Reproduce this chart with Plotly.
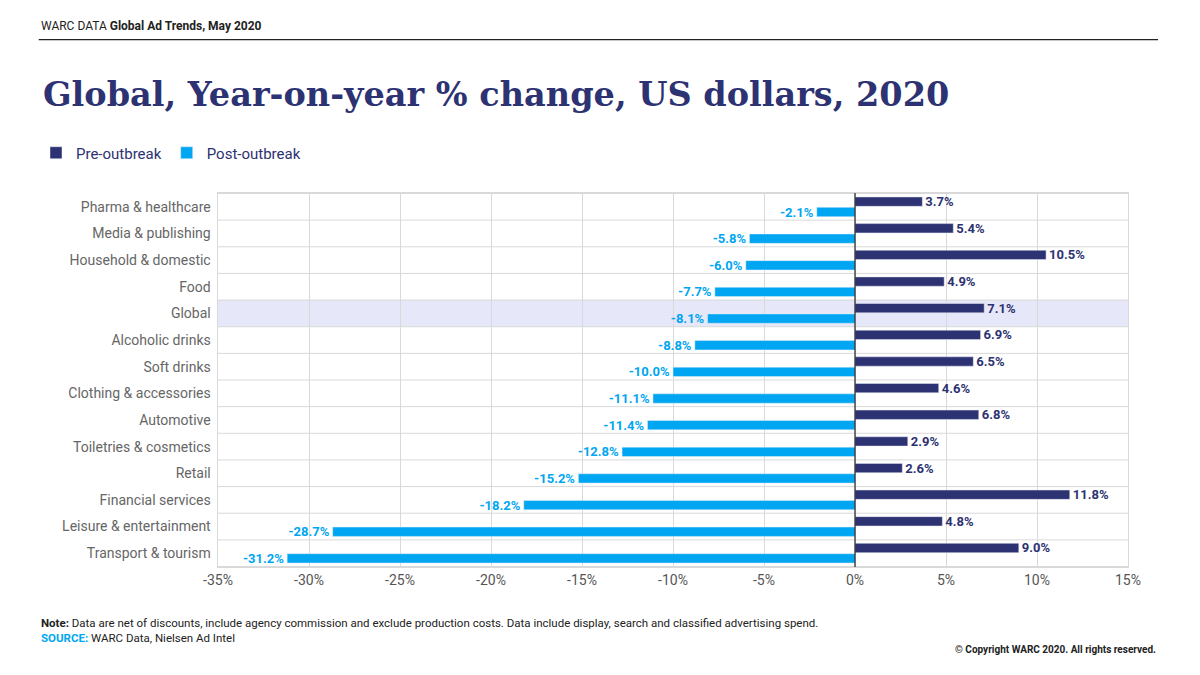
import plotly.graph_objects as go

categories = ["Pharma & healthcare", "Media & publishing", "Household & domestic", "Food",
              "Global", "Alcoholic drinks", "Soft drinks", "Clothing & accessories",
              "Automotive", "Toiletries & cosmetics", "Retail", "Financial services",
              "Leisure & entertainment", "Transport & tourism"]
pre_outbreak = [3.7, 5.4, 10.5, 4.9, 7.1, 6.9, 6.5, 4.6, 6.8, 2.9, 2.6, 11.8, 4.8, 9.0]
post_outbreak = [-2.1, -5.8, -6.0, -7.7, -8.1, -8.8, -10.0, -11.1, -11.4, -12.8, -15.2, -18.2, -28.7, -31.2]
x_ticks = [-35, -30, -25, -20, -15, -10, -5, 0, 5, 10, 15]

NAVY = "#2d3272"
BLUE = "#00a6f2"
font = "Roboto"

fig = go.Figure()
fig.add_trace(go.Bar(y=categories, x=pre_outbreak, orientation="h", name="Pre-outbreak",
                     marker_color=NAVY, text=[f"{v:.1f}%" for v in pre_outbreak],
                     textposition="outside", cliponaxis=False, constraintext="none",
                     textfont=dict(color=NAVY, size=13, family=font, weight="bold")))
fig.add_trace(go.Bar(y=categories, x=post_outbreak, orientation="h", name="Post-outbreak",
                     marker_color=BLUE, text=[f"{v:.1f}%" for v in post_outbreak],
                     textposition="outside", cliponaxis=False, constraintext="none",
                     textfont=dict(color=BLUE, size=13, family=font, weight="bold")))

shapes = []
gi = categories.index("Global")
shapes.append(dict(type="rect", xref="paper", x0=0, x1=1, y0=gi - 0.5, y1=gi + 0.5,
                   fillcolor="#e6e7f8", line_width=0, layer="below"))
for i in range(len(categories) + 1):
    shapes.append(dict(type="line", xref="paper", x0=0, x1=1, y0=i - 0.5, y1=i - 0.5,
                       line=dict(color="#d9d9d9", width=1), layer="below"))
shapes.append(dict(type="line", xref="x", yref="paper", x0=0, x1=0, y0=0, y1=1,
                   line=dict(color="#222", width=1.2)))
shapes.append(dict(type="line", xref="paper", yref="paper", x0=-0.197, x1=1.033,
                   y0=1.41, y1=1.41, line=dict(color="#222", width=1.2)))

fig.update_layout(
    width=1200, height=675, plot_bgcolor="white", paper_bgcolor="white",
    margin=dict(l=210, r=80, t=185, b=116),
    barmode="group", bargap=0.22, bargroupgap=0.1,
    font=dict(family=font, color="#555"),
    shapes=shapes,
    showlegend=True,
    legend=dict(orientation="h", x=-0.2, xanchor="left", y=1.107, yanchor="middle",
                font=dict(size=15, color=NAVY), traceorder="normal", itemwidth=30),
    xaxis=dict(range=[-35, 15], tickvals=x_ticks, ticktext=[f"{v}%" for v in x_ticks],
               showgrid=True, gridcolor="#d9d9d9", zeroline=False, showline=True,
               linecolor="#d9d9d9", mirror=True, tickfont=dict(size=14, color="#555"),
               automargin=False),
    yaxis=dict(autorange="reversed", showgrid=False, ticksuffix=" ",
               tickfont=dict(size=14, color="#666"), showline=True, linecolor="#d9d9d9",
               mirror=True, automargin=False),
    annotations=[
        dict(xref="paper", yref="paper", x=-0.197, y=1.422, xanchor="left", yanchor="bottom",
             showarrow=False, text="WARC DATA <b>Global Ad Trends, May 2020</b>",
             font=dict(size=12, color="#222")),
        dict(xref="paper", yref="paper", x=-0.195, y=1.205, xanchor="left", yanchor="bottom",
             showarrow=False, text="<b>Global, Year-on-year % change, US dollars, 2020</b>",
             font=dict(size=33.5, color=NAVY, family="DejaVu Serif")),
        dict(xref="paper", yref="paper", x=-0.197, y=-0.125, xanchor="left", yanchor="top",
             showarrow=False, align="left",
             text="<b>Note:</b> Data are net of discounts, include agency commission and exclude production costs. Data include display, search and classified advertising spend.<br><span style='color:#00a6f2'><b>SOURCE:</b></span> WARC Data, Nielsen Ad Intel",
             font=dict(size=11.5, color="#222")),
        dict(xref="paper", yref="paper", x=1.033, y=-0.2, xanchor="right", yanchor="top",
             showarrow=False, text="<b>© Copyright WARC 2020. All rights reserved.</b>",
             font=dict(size=10, color="#222")),
    ],
)
fig.write_html("out.html")
